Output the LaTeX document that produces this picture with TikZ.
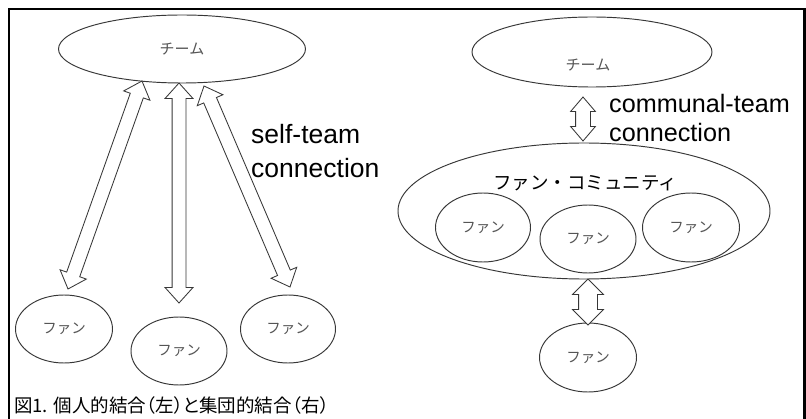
\documentclass[tikz,border=0pt]{standalone}
\usepackage{fontspec}
\setmainfont{Liberation Sans}
\newfontfamily\jp{Noto Sans CJK JP}
\newfontfamily\jpp[RawFeature=+palt]{Noto Sans CJK JP}
\usetikzlibrary{shapes.geometric,shapes.arrows,calc}
\definecolor{ln}{RGB}{55,55,55}
\definecolor{tx}{RGB}{85,85,85}
\tikzset{
  oval/.style={ellipse, draw=ln, line width=0.95pt, inner sep=0pt, text=tx,
    font=\jp\fontsize{14.5}{16}\selectfont},
  jplabel/.style={inner sep=0pt, text=tx, font=\jp\fontsize{15}{17}\selectfont},
  dblarr/.style={double arrow, draw=ln, fill=white, line width=0.85pt,
    inner xsep=0pt, inner ysep=6.5pt, double arrow head extend=7pt,
    double arrow tip angle=84},
  enlabel/.style={inner sep=0pt, anchor=north west, align=left, text=black},
}
\newcommand\blockarr[4]{%
  \path let \p1=(#2), \p2=(#3), \n1={atan2(\y2-\y1,\x2-\x1)},
    \n2={veclen(\x2-\x1,\y2-\y1)} in
    node[#1, rotate=\n1, minimum height=\n2] (#4) at ($(\p1)!0.5!(\p2)$) {};}
\begin{document}
\begin{tikzpicture}[x=1pt,y=1pt]
\useasboundingbox (0,0) rectangle (806,418);
\fill[white] (0,0) rectangle (806,418);
\draw[line width=2.5pt, black] (9,-10) -- (9,409) -- (804.5,409) -- (804.5,-10);

% left: individual connection
\node[oval, minimum width=247, minimum height=68, font=\jp\fontsize{15}{17}\selectfont] (tl) at (182,369) {チーム};
\node[oval, minimum width=97, minimum height=68] (f1) at (64,89) {ファン};
\node[oval, minimum width=96, minimum height=68] (f2) at (179,67) {ファン};
\node[oval, minimum width=95, minimum height=68] (f3) at (288,89) {ファン};

\coordinate (a1s) at (142,337); \coordinate (a1e) at (68,129);
\coordinate (a2s) at (179,335); \coordinate (a2e) at (179,115);
\coordinate (a3s) at (204,332); \coordinate (a3e) at (290,131);
\blockarr{dblarr}{a1s}{a1e}{arr1}
\blockarr{dblarr}{a2s}{a2e}{arr2}
\blockarr{dblarr}{a3s}{a3e}{arr3}

\node[enlabel, font=\fontsize{26.5}{33.5}\selectfont] (lbl1) at (251,293.7) {self-team\\connection};

% right: communal connection
\node[oval, minimum width=240, minimum height=70] (tr) at (592,366) {};
\node[jplabel] (trt) at (588,353) {チーム};
\node[oval, minimum width=372, minimum height=136] (comm) at (584,207) {};
\node[inner sep=0pt, text=black, font=\jp\fontsize{18.5}{20}\selectfont] (commt) at (585,235) {ファン・コミュニティ};
\node[oval, minimum width=95, minimum height=69] (c1) at (483,190.5) {ファン};
\node[oval, minimum width=96, minimum height=68] (c2) at (588,179) {ファン};
\node[oval, minimum width=97, minimum height=69] (c3) at (691,190.5) {ファン};
\node[oval, minimum width=97, minimum height=69] (fb) at (588,60.5) {ファン};

\coordinate (a4s) at (583,321); \coordinate (a4e) at (583,277);
\coordinate (a5s) at (588,139); \coordinate (a5e) at (588,93);
\blockarr{dblarr, inner ysep=7pt, double arrow head extend=5pt, double arrow tip angle=81}{a4s}{a4e}{arr4}
\blockarr{dblarr, inner ysep=9pt, double arrow head extend=6pt, double arrow tip angle=90}{a5s}{a5e}{arr5}

\node[enlabel, font=\fontsize{25.2}{29}\selectfont] (lbl2) at (609,324) {communal-team\\connection};

% caption
\node[inner sep=0pt, anchor=west, text=black, font=\jpp\fontsize{18.5}{20}\selectfont] (cap) at (14,13) {図1. 個人的結合（左）と集団的結合（右）};
\end{tikzpicture}
\end{document}
